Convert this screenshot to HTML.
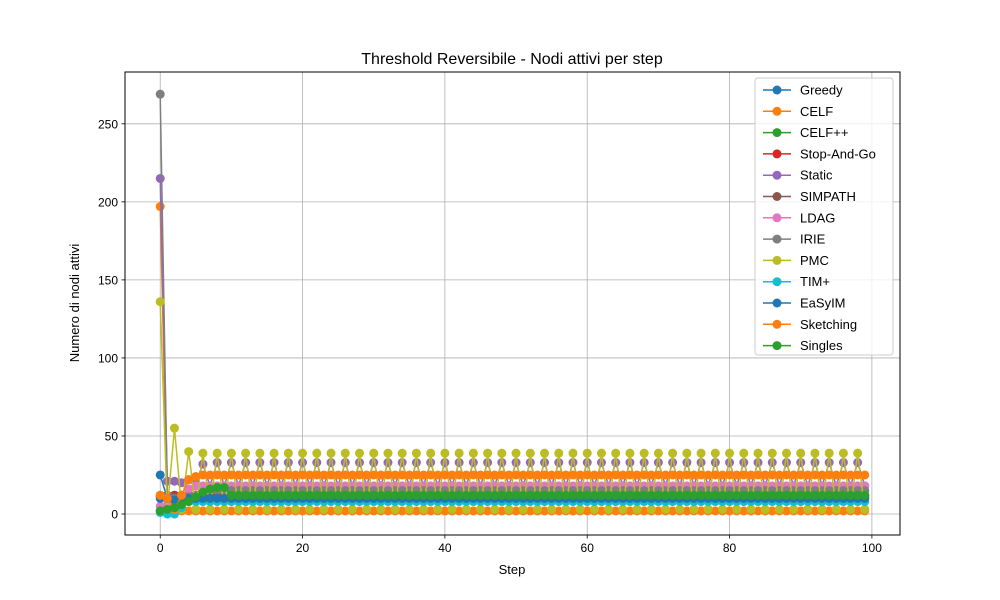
<!DOCTYPE html>
<html><head><meta charset="utf-8"><style>
body{margin:0;background:#fff;}
svg{display:block;font-family:"Liberation Sans","DejaVu Sans",sans-serif;}
</style></head><body>
<svg id="chart" width="1000" height="600">
<rect width="1000" height="600" fill="#fff"/>
<text x="512" y="64" font-size="16" text-anchor="middle">Threshold Reversibile - Nodi attivi per step</text>
<g id="grid"></g>
<g id="series"></g>
<rect x="125" y="72" width="775" height="463" fill="none" stroke="#000" stroke-width="1"/>
<g id="axes"></g>
<text x="512" y="574" font-size="13" text-anchor="middle">Step</text>
<text transform="translate(79,303) rotate(-90)" font-size="13" text-anchor="middle">Numero di nodi attivi</text>
<g id="legend"></g>
</svg>
<script>
const seriesNames=["Greedy","CELF","CELF++","Stop-And-Go","Static","SIMPATH","LDAG","IRIE","PMC","TIM+","EaSyIM","Sketching","Singles"];
const seriesColors=["#1f77b4","#ff7f0e","#2ca02c","#d62728","#9467bd","#8c564b","#e377c2","#7f7f7f","#bcbd22","#17becf","#1f77b4","#ff7f0e","#2ca02c"];
const xTicks=[0,20,40,60,80,100];
const yTicks=[0,50,100,150,200,250];
const greedy=[25,10,10,10,10,10,10,10,10,10, 10,10,10,10,10,10,10,10,10,10, 10,10,10,10,10,10,10,10,10,10, 10,10,10,10,10,10,10,10,10,10, 10,10,10,10,10,10,10,10,10,10, 10,10,10,10,10,10,10,10,10,10, 10,10,10,10,10,10,10,10,10,10, 10,10,10,10,10,10,10,10,10,10, 10,10,10,10,10,10,10,10,10,10, 10,10,10,10,10,10,10,10,10,10];
const celf=[197,5,2,2,2,2,2,2,2,2, 2,2,2,2,2,2,2,2,2,2, 2,2,2,2,2,2,2,2,2,2, 2,2,2,2,2,2,2,2,2,2, 2,2,2,2,2,2,2,2,2,2, 2,2,2,2,2,2,2,2,2,2, 2,2,2,2,2,2,2,2,2,2, 2,2,2,2,2,2,2,2,2,2, 2,2,2,2,2,2,2,2,2,2, 2,2,2,2,2,2,2,2,2,2];
const celfpp=[2,3,12,12,12,12,12,12,12,12, 12,12,12,12,12,12,12,12,12,12, 12,12,12,12,12,12,12,12,12,12, 12,12,12,12,12,12,12,12,12,12, 12,12,12,12,12,12,12,12,12,12, 12,12,12,12,12,12,12,12,12,12, 12,12,12,12,12,12,12,12,12,12, 12,12,12,12,12,12,12,12,12,12, 12,12,12,12,12,12,12,12,12,12, 12,12,12,12,12,12,12,12,12,12];
const stopAndGo=[12,12,12,12,12,12,12,12,12,12, 12,12,12,12,12,12,12,12,12,12, 12,12,12,12,12,12,12,12,12,12, 12,12,12,12,12,12,12,12,12,12, 12,12,12,12,12,12,12,12,12,12, 12,12,12,12,12,12,12,12,12,12, 12,12,12,12,12,12,12,12,12,12, 12,12,12,12,12,12,12,12,12,12, 12,12,12,12,12,12,12,12,12,12, 12,12,12,12,12,12,12,12,12,12];
const staticS=[215,21,21,20,22,20,32,18,33,18, 33,18,33,18,33,18,33,18,33,18, 33,18,33,18,33,18,33,18,33,18, 33,18,33,18,33,18,33,18,33,18, 33,18,33,18,33,18,33,18,33,18, 33,18,33,18,33,18,33,18,33,18, 33,18,33,18,33,18,33,18,33,18, 33,18,33,18,33,18,33,18,33,18, 33,18,33,18,33,18,33,18,33,18, 33,18,33,18,33,18,33,18,33,18];
const simpath=[11,11,11,11,11,11,11,11,11,11, 11,11,11,11,11,11,11,11,11,11, 11,11,11,11,11,11,11,11,11,11, 11,11,11,11,11,11,11,11,11,11, 11,11,11,11,11,11,11,11,11,11, 11,11,11,11,11,11,11,11,11,11, 11,11,11,11,11,11,11,11,11,11, 11,11,11,11,11,11,11,11,11,11, 11,11,11,11,11,11,11,11,11,11, 11,11,11,11,11,11,11,11,11,11];
const ldag=[5,6,8,12,16,18,18,18,18,18, 18,18,18,18,18,18,18,18,18,18, 18,18,18,18,18,18,18,18,18,18, 18,18,18,18,18,18,18,18,18,18, 18,18,18,18,18,18,18,18,18,18, 18,18,18,18,18,18,18,18,18,18, 18,18,18,18,18,18,18,18,18,18, 18,18,18,18,18,18,18,18,18,18, 18,18,18,18,18,18,18,18,18,18, 18,18,18,18,18,18,18,18,18,18];
const irie=[269,12,10,10,11,12,14,15,15,15, 15,15,15,15,15,15,15,15,15,15, 15,15,15,15,15,15,15,15,15,15, 15,15,15,15,15,15,15,15,15,15, 15,15,15,15,15,15,15,15,15,15, 15,15,15,15,15,15,15,15,15,15, 15,15,15,15,15,15,15,15,15,15, 15,15,15,15,15,15,15,15,15,15, 15,15,15,15,15,15,15,15,15,15, 15,15,15,15,15,15,15,15,15,15];
const pmc=[136,3,55,3,40,3,39,3,39,3, 39,3,39,3,39,3,39,3,39,3, 39,3,39,3,39,3,39,3,39,3, 39,3,39,3,39,3,39,3,39,3, 39,3,39,3,39,3,39,3,39,3, 39,3,39,3,39,3,39,3,39,3, 39,3,39,3,39,3,39,3,39,3, 39,3,39,3,39,3,39,3,39,3, 39,3,39,3,39,3,39,3,39,3, 39,3,39,3,39,3,39,3,39,3];
const timPlus=[1,0,0,4,8,8,8,8,8,8, 8,8,8,8,8,8,8,8,8,8, 8,8,8,8,8,8,8,8,8,8, 8,8,8,8,8,8,8,8,8,8, 8,8,8,8,8,8,8,8,8,8, 8,8,8,8,8,8,8,8,8,8, 8,8,8,8,8,8,8,8,8,8, 8,8,8,8,8,8,8,8,8,8, 8,8,8,8,8,8,8,8,8,8, 8,8,8,8,8,8,8,8,8,8];
const easyim=[10,10,9,10,10,10,10,10,10,10, 10,10,10,10,10,10,10,10,10,10, 10,10,10,10,10,10,10,10,10,10, 10,10,10,10,10,10,10,10,10,10, 10,10,10,10,10,10,10,10,10,10, 10,10,10,10,10,10,10,10,10,10, 10,10,10,10,10,10,10,10,10,10, 10,10,10,10,10,10,10,10,10,10, 10,10,10,10,10,10,10,10,10,10, 10,10,10,10,10,10,10,10,10,10];
const sketching=[12,10,3,12,22,24,25,25,25,25, 25,25,25,25,25,25,25,25,25,25, 25,25,25,25,25,25,25,25,25,25, 25,25,25,25,25,25,25,25,25,25, 25,25,25,25,25,25,25,25,25,25, 25,25,25,25,25,25,25,25,25,25, 25,25,25,25,25,25,25,25,25,25, 25,25,25,25,25,25,25,25,25,25, 25,25,25,25,25,25,25,25,25,25, 25,25,25,25,25,25,25,25,25,25];
const singles=[2,3,4,6,8,11,14,16,17,17, 12,12,12,12,12,12,12,12,12,12, 12,12,12,12,12,12,12,12,12,12, 12,12,12,12,12,12,12,12,12,12, 12,12,12,12,12,12,12,12,12,12, 12,12,12,12,12,12,12,12,12,12, 12,12,12,12,12,12,12,12,12,12, 12,12,12,12,12,12,12,12,12,12, 12,12,12,12,12,12,12,12,12,12, 12,12,12,12,12,12,12,12,12,12];
const seriesValues=[greedy,celf,celfpp,stopAndGo,staticS,simpath,ldag,irie,pmc,timPlus,easyim,sketching,singles];

const NS="http://www.w3.org/2000/svg";
const L=125,R=900,T=72,B=535;
const xMin=-4.95,xMax=103.95,yMin=-13.45,yMax=283.2;
function sx(v){return L+(v-xMin)/(xMax-xMin)*(R-L);}
function sy(v){return B-(v-yMin)/(yMax-yMin)*(B-T);}
function mk(tag,attrs,parent){const e=document.createElementNS(NS,tag);for(const k in attrs)e.setAttribute(k,attrs[k]);parent.appendChild(e);return e;}
const grid=document.getElementById('grid'),axes=document.getElementById('axes'),ser=document.getElementById('series'),leg=document.getElementById('legend');
xTicks.forEach(t=>{
  const x=sx(t);
  const g=mk('line',{x1:x,x2:x,y1:T,y2:B,stroke:'#b0b0b0','stroke-width':0.8},grid);
  
  
  mk('line',{x1:x,x2:x,y1:B,y2:B+3.5,stroke:'#000','stroke-width':0.8},axes);
  const tx=mk('text',{x:x,y:B+17,'font-size':12,'text-anchor':'middle'},axes);
  tx.textContent=t;
  
  
});
yTicks.forEach(t=>{
  const y=sy(t);
  const g=mk('line',{x1:L,x2:R,y1:y,y2:y,stroke:'#b0b0b0','stroke-width':0.8},grid);
  
  
  mk('line',{x1:L-3.5,x2:L,y1:y,y2:y,stroke:'#000','stroke-width':0.8},axes);
  const tx=mk('text',{x:L-7,y:y+4.5,'font-size':12,'text-anchor':'end'},axes);
  tx.textContent=t;
  
  
});
seriesValues.forEach((vals,i)=>{
  const g=mk('g',{},ser);
  
  
  const pts=vals.map((v,j)=>sx(j).toFixed(1)+','+sy(v).toFixed(1)).join(' ');
  const pl=mk('polyline',{points:pts,fill:'none',stroke:seriesColors[i],'stroke-width':1.5},g);
  
  
  vals.forEach((v,j)=>{
    const c=mk('circle',{cx:sx(j),cy:sy(v),r:4.5,fill:seriesColors[i]},g);
    
    
  });
});
const lb=mk('rect',{x:755,y:78,width:138,height:277,fill:'#fff','fill-opacity':0.8,stroke:'#ccc',rx:3},leg);


seriesNames.forEach((n,i)=>{
  const y=90+i*21.3;
  const g=mk('g',{},leg);
  
  
  mk('line',{x1:763,x2:791,y1:y,y2:y,stroke:seriesColors[i],'stroke-width':1.5},g);
  mk('circle',{cx:777,cy:y,r:4.5,fill:seriesColors[i]},g);
  const t=mk('text',{x:800,y:y+4.5,'font-size':13},g);
  t.textContent=n;
});
</script>
</body></html>
